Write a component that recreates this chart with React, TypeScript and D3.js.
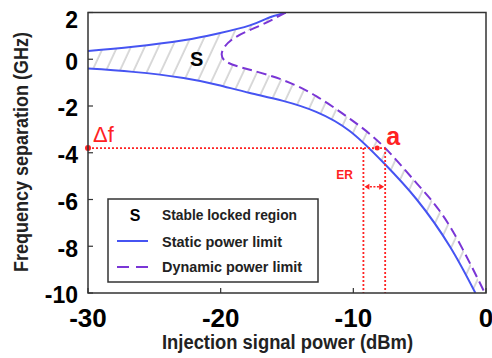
import React, { useEffect, useRef } from 'react'
import * as d3 from 'd3'

// axis ticks
const xTicks = [-30, -20, -10, 0]
const yTicks = [2, 0, -2, -4, -6, -8, -10]

// static power limit, upper branch (dBm, GHz)
const staticUpperX = [-30, -26.6, -22.8, -20.2, -17.8, -16.5, -15.1]
const staticUpperY = [0.35, 0.53, 0.81, 1.1, 1.45, 1.75, 2.0]

// static power limit, lower branch
const staticLowerX = [-30, -26.6, -22.8, -20.2, -17.8, -15.3, -12.8, -10.25, -7.74, -5.22, -2.71, -0.8]
const staticLowerY = [-0.4, -0.54, -0.8, -1.1, -1.44, -1.78, -2.25, -3.08, -4.42, -6.0, -8.02, -10]

// dynamic power limit, from the top edge round the nose and down
const dynamicX = [-15.1, -17.0, -19.0, -19.9, -19.5, -17.8, -15.3, -12.8, -10.25, -7.74, -5.22, -2.71, -0.2, 0]
const dynamicY = [2.0, 1.45, 0.9, 0.3, -0.13, -0.45, -0.89, -1.58, -2.55, -3.72, -5.31, -7.16, -9.87, -10]

// annotations
const deltaF = -3.8
const erLeft = -9.24
const erRight = -7.6
const markerA = -8.2
const erArrowY = -5.45
const erLabel = { x: -10.65, y: -4.95 }
const sLabel = { x: -21.8, y: 0 }

const legendItems = ['Stable locked region', 'Static power limit', 'Dynamic power limit']

const W = 492
const H = 358
const RED = '#ff2222'
const BLUE = '#4654f2'
const PURPLE = '#7a36d6'
const FONT = "'Liberation Sans', Arial, sans-serif"
const NARROW = "'Liberation Sans Narrow', 'Liberation Sans', Arial, sans-serif"

export default function App() {
    const ref = useRef<SVGSVGElement>(null)

    useEffect(() => {
        const svg = d3.select(ref.current)
        svg.selectAll('*').remove()

        const left = 88, right = 486, top = 12.5, bottom = 293
        const x = d3.scaleLinear().domain([-30, 0]).range([left, right])
        const y = d3.scaleLinear().domain([-10, 2]).range([bottom, top])

        const defs = svg.append('defs')
        defs.append('clipPath').attr('id', 'plotClip')
            .append('rect').attr('x', left).attr('y', top)
            .attr('width', right - left).attr('height', bottom - top)
        const pat = defs.append('pattern').attr('id', 'hatch')
            .attr('patternUnits', 'userSpaceOnUse')
            .attr('width', 12.5).attr('height', 20)
            .attr('patternTransform', 'rotate(25)')
        pat.append('line').attr('x1', 1).attr('x2', 1).attr('y1', -2).attr('y2', 22)
            .attr('stroke', '#aaaaaa').attr('stroke-width', 0.9)

        const line = d3.line<[number, number]>()
            .x(d => x(d[0])).y(d => y(d[1]))
            .curve(d3.curveNatural)

        const upper = staticUpperX.map((v, i) => [v, staticUpperY[i]] as [number, number])
        const lower = staticLowerX.map((v, i) => [v, staticLowerY[i]] as [number, number])
        const dyn = dynamicX.map((v, i) => [v, dynamicY[i]] as [number, number])

        const plot = svg.append('g').attr('clip-path', 'url(#plotClip)')

        // hatched stable region
        const hatchPath = line(upper)! +
            line(dyn)!.replace(/^M/, 'L') +
            line(lower.slice().reverse())!.replace(/^M/, 'L') + 'Z'
        plot.append('path').attr('d', hatchPath).attr('fill', 'url(#hatch)')

        plot.append('path').attr('d', line(upper)!).attr('fill', 'none')
            .attr('stroke', BLUE).attr('stroke-width', 2)
        plot.append('path').attr('d', line(lower)!).attr('fill', 'none')
            .attr('stroke', BLUE).attr('stroke-width', 2)
        plot.append('path').attr('d', line(dyn)!).attr('fill', 'none')
            .attr('stroke', PURPLE).attr('stroke-width', 2).attr('stroke-dasharray', '10,5')

        // red annotations
        const red = svg.append('g')
        red.append('line').attr('x1', x(-30)).attr('x2', x(erRight))
            .attr('y1', y(deltaF)).attr('y2', y(deltaF))
            .attr('stroke', RED).attr('stroke-width', 1.8).attr('stroke-dasharray', '2,2')
        ;[erLeft, erRight].forEach(v => {
            red.append('line').attr('x1', x(v)).attr('x2', x(v))
                .attr('y1', y(deltaF)).attr('y2', y(-10))
                .attr('stroke', RED).attr('stroke-width', 1.8).attr('stroke-dasharray', '2,2')
        })
        red.append('circle').attr('cx', x(-30)).attr('cy', y(deltaF)).attr('r', 3).attr('fill', RED)
        red.append('circle').attr('cx', x(markerA)).attr('cy', y(deltaF)).attr('r', 2.5).attr('fill', RED)
        const ay = y(erArrowY)
        red.append('line').attr('x1', x(erLeft) + 3).attr('x2', x(erRight) - 3)
            .attr('y1', ay).attr('y2', ay)
            .attr('stroke', RED).attr('stroke-width', 1.5).attr('stroke-dasharray', '2,1.5')
        red.append('path')
            .attr('d', `M${x(erLeft) + 1},${ay}l5,-3v6z M${x(erRight) - 1},${ay}l-5,-3v6z`)
            .attr('fill', RED)
        red.append('text').attr('x', x(-30) + 5).attr('y', y(deltaF) - 6)
            .attr('font-family', FONT).attr('font-size', 22).attr('fill', RED).text('Δf')
        red.append('text').attr('x', x(erRight) + 1).attr('y', y(deltaF) - 3)
            .attr('font-family', FONT).attr('font-size', 25).attr('font-weight', 'bold')
            .attr('fill', RED).text('a')
        red.append('text').attr('x', x(erLabel.x)).attr('y', y(erLabel.y) + 4)
            .attr('text-anchor', 'middle')
            .attr('font-family', FONT).attr('font-size', 12).attr('font-weight', 'bold')
            .attr('fill', RED).text('ER')

        plot.append('text').attr('x', x(sLabel.x)).attr('y', y(sLabel.y) + 7)
            .attr('text-anchor', 'middle')
            .attr('font-family', FONT).attr('font-size', 20).attr('font-weight', 'bold')
            .text('S')

        // frame and ticks
        svg.append('rect').attr('x', left).attr('y', top)
            .attr('width', right - left).attr('height', bottom - top)
            .attr('fill', 'none').attr('stroke', '#333').attr('stroke-width', 1.5)
        yTicks.forEach(t => {
            svg.append('line').attr('x1', left).attr('x2', left + 5)
                .attr('y1', y(t)).attr('y2', y(t)).attr('stroke', '#333').attr('stroke-width', 1.2)
            svg.append('text').attr('x', 78).attr('y', Math.max(y(t) + 2, 20))
                .attr('dy', '0.36em').attr('text-anchor', 'end')
                .attr('font-family', FONT).attr('font-size', 23).attr('font-weight', 'bold')
                .text(t)
        })
        xTicks.forEach(t => {
            svg.append('line').attr('x1', x(t)).attr('x2', x(t))
                .attr('y1', bottom).attr('y2', bottom - 5).attr('stroke', '#333').attr('stroke-width', 1.2)
            svg.append('text').attr('x', x(t)).attr('y', 327)
                .attr('text-anchor', 'middle')
                .attr('font-family', FONT).attr('font-size', 26).attr('font-weight', 'bold')
                .text(t)
        })

        // axis titles
        svg.append('text').attr('x', 287.5).attr('y', 349)
            .attr('text-anchor', 'middle')
            .attr('font-family', NARROW).attr('font-size', 20).attr('font-weight', 'bold')
            .attr('textLength', 251).attr('lengthAdjust', 'spacingAndGlyphs')
            .attr('fill', '#222')
            .text('Injection signal power (dBm)')
        svg.append('text')
            .attr('transform', 'translate(28,152) rotate(-90)')
            .attr('text-anchor', 'middle')
            .attr('font-family', NARROW).attr('font-size', 20).attr('font-weight', 'bold')
            .attr('textLength', 240).attr('lengthAdjust', 'spacingAndGlyphs')
            .attr('fill', '#222')
            .text('Frequency separation (GHz)')

        // legend
        const lg = svg.append('g')
        lg.append('rect').attr('x', 108).attr('y', 199).attr('width', 210).attr('height', 83)
            .attr('fill', 'white').attr('stroke', '#333').attr('stroke-width', 1.5)
        lg.append('text').attr('x', 135).attr('y', 221).attr('text-anchor', 'middle')
            .attr('font-family', FONT).attr('font-size', 16).attr('font-weight', 'bold').text('S')
        lg.append('line').attr('x1', 117).attr('x2', 148).attr('y1', 241).attr('y2', 241)
            .attr('stroke', BLUE).attr('stroke-width', 2)
        lg.append('line').attr('x1', 117).attr('x2', 148).attr('y1', 267).attr('y2', 267)
            .attr('stroke', PURPLE).attr('stroke-width', 2).attr('stroke-dasharray', '12,7')
        const widths = [135, 120, 140]
        legendItems.forEach((s, i) => {
            lg.append('text').attr('x', 162).attr('y', [220, 247, 272][i])
                .attr('font-family', NARROW).attr('font-size', 15).attr('font-weight', 'bold')
                .attr('textLength', widths[i]).attr('lengthAdjust', 'spacingAndGlyphs')
                .attr('fill', '#222')
                .text(s)
        })
    }, [])

    return (
        <svg ref={ref} width={W} height={H}
            style={{ position: 'absolute', left: 0, top: 0, background: 'white' }} />
    )
}
